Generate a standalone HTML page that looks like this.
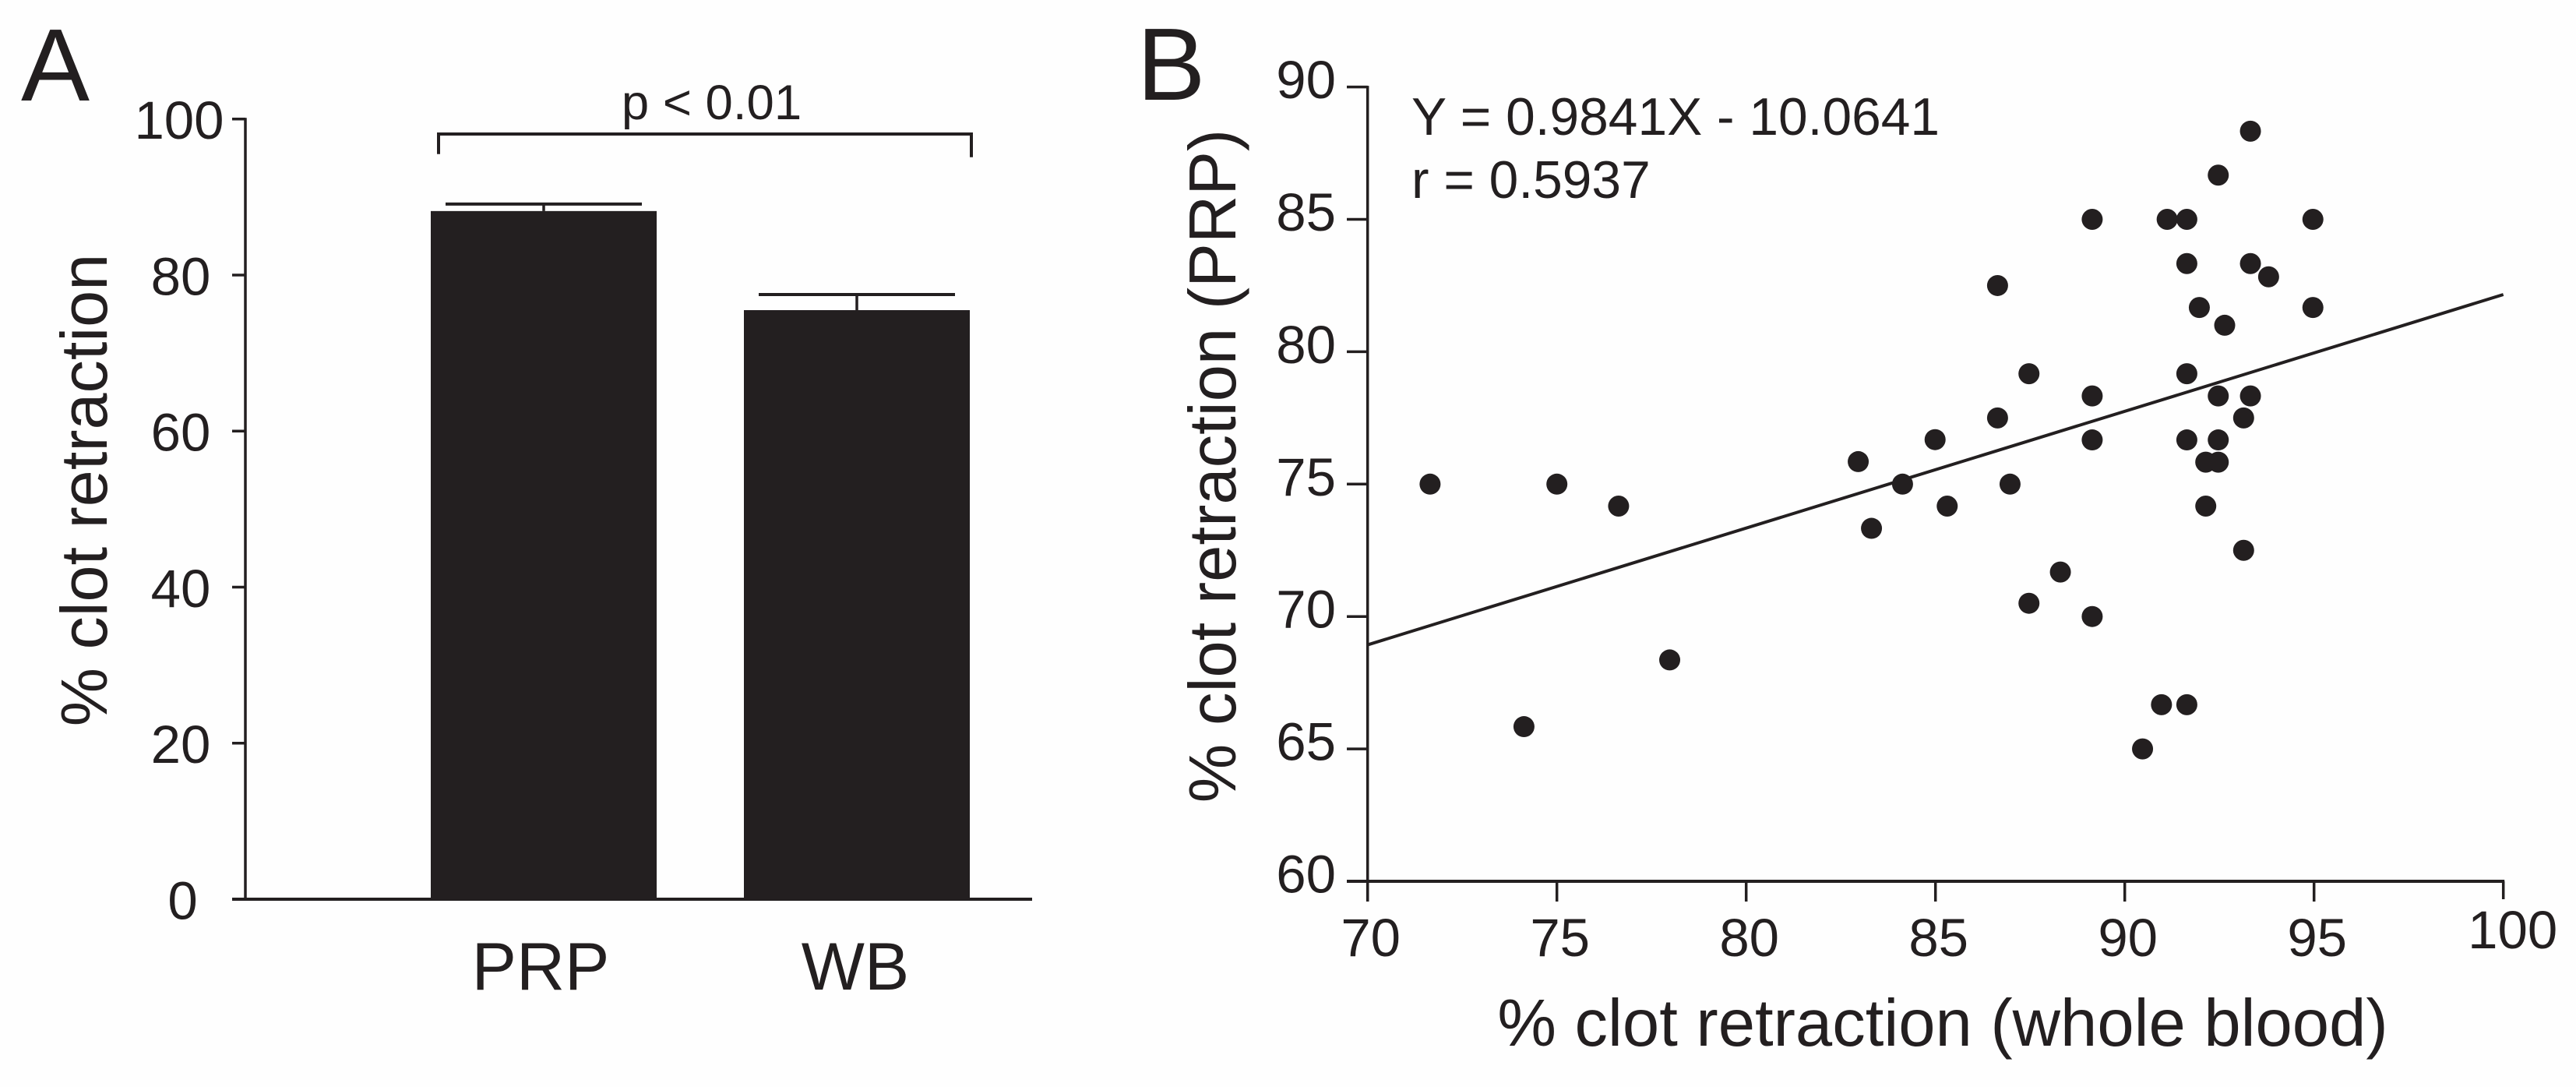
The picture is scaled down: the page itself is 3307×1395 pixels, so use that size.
<!DOCTYPE html>
<html lang="en">
<head>
<meta charset="utf-8">
<title>Clot retraction charts</title>
<style>
html,body{margin:0;padding:0;background:#fefefe;width:3307px;height:1395px;overflow:hidden}
svg{display:block}
text{font-family:"Liberation Sans",Arial,sans-serif;fill:#231f20}
</style>
</head>
<body>
<svg id="fig" xmlns="http://www.w3.org/2000/svg" width="3307" height="1395" viewBox="0 0 3307 1395">
  <g id="panelA">
    <text x="27" y="129" font-size="132">A</text>
    <text transform="translate(137,629) rotate(-90)" text-anchor="middle" font-size="84.6">% clot retraction</text>
    <text x="913.5" y="153" text-anchor="middle" font-size="63.5">p &lt; 0.01</text>
  </g>
  <g id="panelB">
    <text x="1459.5" y="128" font-size="132">B</text>
    <text transform="translate(1586,598) rotate(-90)" text-anchor="middle" font-size="85">% clot retraction (PRP)</text>
    <text x="2494" y="1342" text-anchor="middle" font-size="85">% clot retraction (whole blood)</text>
    <text x="1812" y="173" font-size="67.7">Y = 0.9841X - 10.0641</text>
    <text x="1812" y="254" font-size="67.7">r = 0.5937</text>
  </g>
</svg>
<script>
var barCategories = ['PRP', 'WB'];
var barMeans = [88.2, 75.5];
var barErrorTops = [89.1, 77.5];
var barTicks = [0, 20, 40, 60, 80, 100];
var bracketValues = [98.07, 95.5, 95.1];

var scatterXTicks = [70, 75, 80, 85, 90, 95, 100];
var scatterYTicks = [60, 65, 70, 75, 80, 85, 90];
var wholeBlood = [71.65, 75.0, 76.63, 77.98, 74.13, 82.96, 83.31, 84.13, 84.99, 85.31, 86.64, 86.64, 86.97, 87.47, 87.47, 88.3, 89.14, 89.14, 89.14, 89.14, 90.47, 90.97, 91.64, 91.12, 91.64, 91.64, 91.97, 91.64, 91.64, 92.14, 92.47, 92.14, 92.47, 92.64, 92.47, 92.47, 93.14, 93.14, 93.32, 93.32, 93.32, 93.8, 94.97, 94.97];
var prp = [75.0, 75.0, 74.17, 68.36, 65.84, 75.85, 73.33, 75.0, 76.68, 74.17, 82.5, 77.5, 75.0, 79.17, 70.5, 71.68, 85.0, 78.33, 76.67, 70.0, 65.0, 66.67, 66.67, 85.0, 85.0, 83.33, 81.67, 79.17, 76.67, 75.83, 75.83, 74.17, 86.67, 81.0, 78.33, 76.67, 77.5, 72.5, 88.33, 83.33, 78.33, 82.83, 85.0, 81.67];
var fitLineX = [70, 100];
var fitLineY = [68.93, 82.16];

var INK = '#231f20';
var NS = 'http://www.w3.org/2000/svg';
var panelA = document.getElementById('panelA');
var panelB = document.getElementById('panelB');

function make(parent, tag, attrs, content) {
  var el = document.createElementNS(NS, tag);
  for (var k in attrs) { el.setAttribute(k, attrs[k]); }
  if (content !== undefined) { el.textContent = content; }
  parent.appendChild(el);
  return el;
}
function line(parent, x1, y1, x2, y2, w) {
  return make(parent, 'line', {x1: x1, y1: y1, x2: x2, y2: y2, stroke: INK, 'stroke-width': w});
}

/* Panel A axis functions */
function aY(v) { return 1154 - v * 10.013; }
function aBand(i) { return 698 + i * 402; }
var BAR_W = 290;
var CAP_W = 252;

var aYAxis = line(panelA, 315, aY(100) - 1.5, 315, aY(0), 3.5);


var aXAxis = line(panelA, 298, aY(0), 1325, aY(0), 4);



barTicks.forEach(function (t) {
  var tick = line(panelA, 298, aY(t), 315, aY(t), 3.5);
  
  
  var labelX = t === 100 ? 230 : (t === 0 ? 234.5 : 232);
  var label = make(panelA, 'text', {x: labelX, y: aY(t) + 25.5, 'text-anchor': 'middle', 'font-size': 69}, String(t));
  
  
});

barCategories.forEach(function (cat, i) {
  var cx = aBand(i);
  var bar = make(panelA, 'rect', {x: cx - BAR_W / 2, y: aY(barMeans[i]), width: BAR_W, height: aY(0) - aY(barMeans[i]), fill: INK});
  
  
  var stem = line(panelA, cx, aY(barErrorTops[i]), cx, aY(barMeans[i]), 3.5);
  
  
  var cap = line(panelA, cx - CAP_W / 2, aY(barErrorTops[i]), cx + CAP_W / 2, aY(barErrorTops[i]), 4);
  
  
  var catLabel = make(panelA, 'text', {x: cx - (i === 0 ? 4 : 2), y: 1270, 'text-anchor': 'middle', 'font-size': 86}, cat);
  
  
});

var bx0 = aBand(0) - BAR_W / 2 + 10;
var bx1 = aBand(1) + BAR_W / 2 + 2;
var bracket = make(panelA, 'path', {
  d: 'M' + bx0 + ' ' + aY(bracketValues[1]) + 'V' + aY(bracketValues[0]) + 'H' + bx1 + 'V' + aY(bracketValues[2]),
  fill: 'none', stroke: INK, 'stroke-width': 4
});



/* Panel B axis functions */
function bX(v) { return 1755.7 + (v - 70) * 48.6; }
function bY(v) { return 1131 - (v - 60) * 33.98; }

var bYAxis = line(panelB, bX(70), bY(90) - 1.5, bX(70), 1157, 3.5);


var bXAxis = line(panelB, 1729, bY(60), bX(100) + 1.5, bY(60), 4);



scatterYTicks.forEach(function (t) {
  var tick = line(panelB, 1729, bY(t), bX(70), bY(t), 3.5);
  
  
  var label = make(panelB, 'text', {x: 1715, y: bY(t) + 14.5, 'text-anchor': 'end', 'font-size': 69}, String(t));
  
  
});

scatterXTicks.forEach(function (t) {
  var isLast = t === scatterXTicks[scatterXTicks.length - 1];
  var tick = line(panelB, bX(t), bY(60), bX(t), isLast ? 1154 : 1157, 3.5);
  
  
  var label = make(panelB, 'text', {x: bX(t) + (isLast ? 12 : 4), y: isLast ? 1217 : 1227, 'text-anchor': 'middle', 'font-size': 69}, String(t));
  
  
});

var fit = line(panelB, bX(fitLineX[0]), bY(fitLineY[0]), bX(fitLineX[1]), bY(fitLineY[1]), 4);



wholeBlood.forEach(function (x, i) {
  var dot = make(panelB, 'circle', {cx: bX(x), cy: bY(prp[i]), r: 13.5, fill: INK});
  
  
});
</script>
</body>
</html>
